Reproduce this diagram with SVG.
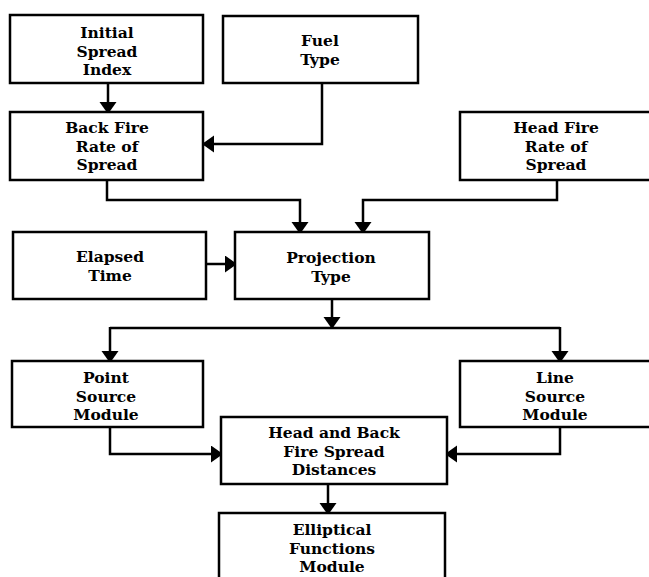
<svg xmlns="http://www.w3.org/2000/svg" width="649" height="577" viewBox="0 0 649 577">
<defs>
<style>
.box{fill:#fff;stroke:#000;stroke-width:2.5}
.lbl{font-family:"DejaVu Serif","Liberation Serif",serif;font-weight:bold;font-size:15.5px;text-anchor:middle;fill:#000}
.con{fill:none;stroke:#000;stroke-width:2.5;marker-end:url(#ah)}
</style>
<marker id="ah" markerUnits="userSpaceOnUse" markerWidth="13" markerHeight="18" refX="10" refY="8.5" orient="auto" viewBox="0 0 13 18">
<path d="M0,0 L12,8.5 L0,17 z" fill="#000"/>
</marker>
</defs>
<rect width="649" height="577" fill="#fff"/>
<g id="connectors">
<path class="con" d="M108,83 V112"/>
<path class="con" d="M322,83 V144 H204"/>
<path class="con" d="M107,180 V200 H300 V232"/>
<path class="con" d="M557,180 V200 H363 V232"/>
<path class="con" d="M206,264 H235"/>
<path class="con" d="M332,299 V327"/>
<path d="M110,328 H560" fill="none" stroke="#000" stroke-width="2.5"/>
<path class="con" d="M110,327 V361"/>
<path class="con" d="M560,327 V361"/>
<path class="con" d="M110,427 V454 H221"/>
<path class="con" d="M560,427 V454 H447"/>
<path class="con" d="M328,484 V513"/>
</g>
<g id="initial-spread-index">
<rect class="box" x="10" y="15" width="193" height="68"/>
<text class="lbl" x="107" y="38">Initial</text>
<text class="lbl" x="107" y="56.5">Spread</text>
<text class="lbl" x="107" y="75">Index</text>
</g>
<g id="fuel-type">
<rect class="box" x="223" y="16" width="195" height="67"/>
<text class="lbl" x="320" y="46">Fuel</text>
<text class="lbl" x="320" y="64.5">Type</text>
</g>
<g id="back-fire-ros">
<rect class="box" x="10" y="112" width="193" height="68"/>
<text class="lbl" x="107" y="133">Back Fire</text>
<text class="lbl" x="107" y="151.5">Rate of</text>
<text class="lbl" x="107" y="170">Spread</text>
</g>
<g id="head-fire-ros">
<rect class="box" x="460" y="112" width="193" height="68"/>
<text class="lbl" x="556" y="133">Head Fire</text>
<text class="lbl" x="556" y="151.5">Rate of</text>
<text class="lbl" x="556" y="170">Spread</text>
</g>
<g id="elapsed-time">
<rect class="box" x="13" y="232" width="193" height="67"/>
<text class="lbl" x="110" y="262">Elapsed</text>
<text class="lbl" x="110" y="281">Time</text>
</g>
<g id="projection-type">
<rect class="box" x="235" y="232" width="194" height="67"/>
<text class="lbl" x="331" y="263">Projection</text>
<text class="lbl" x="331" y="282">Type</text>
</g>
<g id="point-source">
<rect class="box" x="12" y="361" width="191" height="66"/>
<text class="lbl" x="106" y="383">Point</text>
<text class="lbl" x="106" y="401.5">Source</text>
<text class="lbl" x="106" y="420">Module</text>
</g>
<g id="line-source">
<rect class="box" x="460" y="361" width="193" height="66"/>
<text class="lbl" x="555" y="383">Line</text>
<text class="lbl" x="555" y="401.5">Source</text>
<text class="lbl" x="555" y="420">Module</text>
</g>
<g id="head-back-distances">
<rect class="box" x="221" y="417" width="226" height="67"/>
<text class="lbl" x="334" y="438">Head and Back</text>
<text class="lbl" x="334" y="456.5">Fire Spread</text>
<text class="lbl" x="334" y="475">Distances</text>
</g>
<g id="elliptical-functions">
<rect class="box" x="219" y="513" width="226" height="70"/>
<text class="lbl" x="332" y="535">Elliptical</text>
<text class="lbl" x="332" y="553.5">Functions</text>
<text class="lbl" x="332" y="572">Module</text>
</g>
</svg>
